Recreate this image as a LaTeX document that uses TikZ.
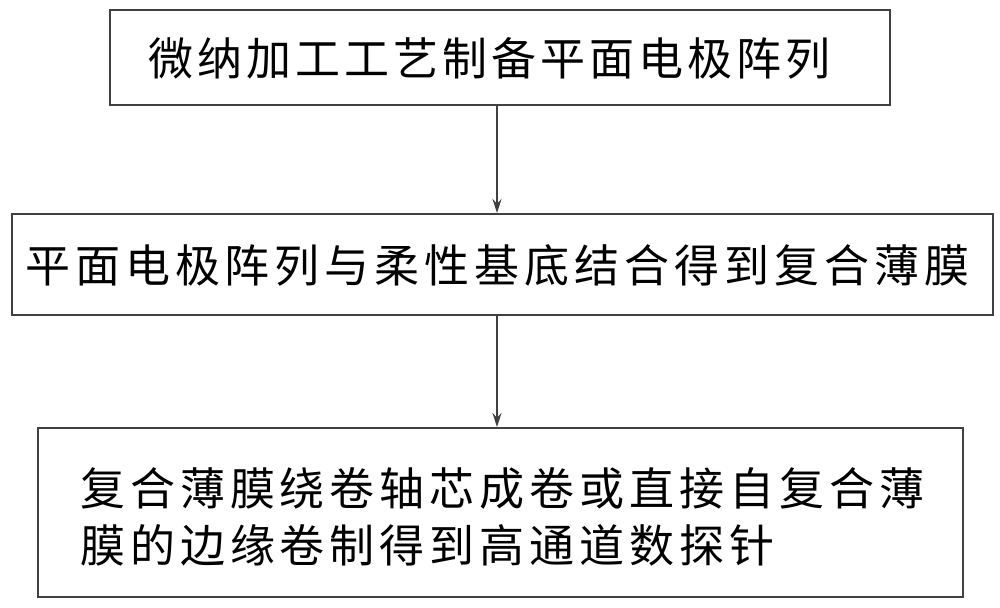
\documentclass[tikz,border=0pt]{standalone}
\usepackage{fontspec}
\newfontfamily\cjk{Noto Sans CJK SC}
\usetikzlibrary{arrows.meta}
\begin{document}
\begin{tikzpicture}[x=1pt,y=-1pt,
  boxs/.style={draw=black!75,line width=1.2pt},
  txt/.style={font=\fontsize{45}{57}\cjk,anchor=west,inner sep=0},
  arr/.style={-{Stealth[length=14pt,width=9pt]},line width=1.1pt,black!75}]
\useasboundingbox (0,0) rectangle (1000,607);
\draw[boxs] (110,10) rectangle (890,105);
\draw[boxs] (12,214) rectangle (993,315);
\draw[boxs] (38,428) rectangle (963,597);
\node[txt] (t1) at (148,58) {\addfontfeature{LetterSpace=9}微纳加工工艺制备平面电极阵列};
\node[txt] (t2) at (25,265) {\addfontfeature{LetterSpace=11}平面电极阵列与柔性基底结合得到复合薄膜};
\node[txt] (t3) at (80,488) {\addfontfeature{LetterSpace=11}复合薄膜绕卷轴芯成卷或直接自复合薄};
\node[txt] (t4) at (80,545) {\addfontfeature{LetterSpace=11}膜的边缘卷制得到高通道数探针};
\coordinate (a1) at (497,105); \coordinate (b1) at (497,213);
\coordinate (a2) at (497,315); \coordinate (b2) at (497,427);
\draw[arr] (a1) -- (b1);
\draw[arr] (a2) -- (b2);
\end{tikzpicture}
\end{document}
